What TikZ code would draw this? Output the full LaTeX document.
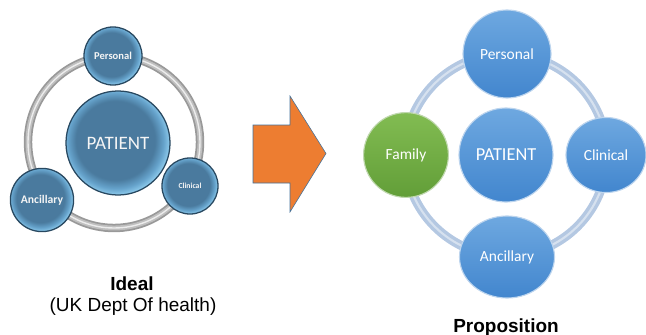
\documentclass[tikz,border=0pt]{standalone}
\usepackage{fontspec}
\setmainfont{Liberation Sans}
\newfontfamily\calibri{Carlito}
\usetikzlibrary{shapes.geometric}
\definecolor{steeldark}{RGB}{40,72,96}
\definecolor{ballhi}{RGB}{110,168,224}
\definecolor{balllo}{RGB}{66,134,206}
\definecolor{famhi}{RGB}{130,188,82}
\definecolor{famlo}{RGB}{98,158,56}
\definecolor{ringblue}{RGB}{180,200,226}
\definecolor{arroworange}{RGB}{237,125,49}
\definecolor{arrowedge}{RGB}{65,113,156}
\pgfdeclareradialshading{ballL}{\pgfpoint{-2bp}{2bp}}{rgb(0bp)=(0.29,0.48,0.62); rgb(19bp)=(0.29,0.48,0.62); rgb(23bp)=(0.40,0.64,0.80); rgb(26bp)=(0.56,0.80,0.93); rgb(50bp)=(0.56,0.80,0.93)}
\begin{document}
\begin{tikzpicture}[x=0.025cm,y=-0.025cm,
	ballL/.style={circle,shading=ballL,draw=steeldark,line width=0.9pt,inner sep=0pt,text=white!92!gray},
	ballR/.style={top color=ballhi,bottom color=balllo,draw=white!65!balllo,line width=0.8pt,inner sep=0pt,text=white,font=\calibri\fontsize{11}{13}\selectfont},
	caption/.style={anchor=base,font=\fontsize{13.5}{16}\selectfont}]
	\useasboundingbox (0,0) rectangle (646,335);
	% ideal: ring first, balls on top
	\coordinate (ringL) at (114,142);
	\draw[line width=6pt,gray!80] (ringL) circle (86);
	\draw[line width=3.5pt,gray!50] (ringL) circle (86);
	\draw[line width=1pt,white!85!gray] (ringL) circle (86);
	\node[ballL,minimum size=2.6cm,font=\calibri\fontsize{13.5}{16}\selectfont] (patientL) at (118,143) {PATIENT};
	\node[ballL,minimum size=1.45cm,font=\calibri\bfseries\fontsize{7.5}{9}\selectfont] (personalL) at (113,56) {Personal};
	\node[ballL,minimum size=1.4cm,font=\calibri\bfseries\fontsize{5.5}{7}\selectfont] (clinicalL) at (190,186) {Clinical};
	\node[ballL,minimum size=1.58cm,font=\calibri\bfseries\fontsize{8.3}{10}\selectfont] (ancillaryL) at (42,200) {Ancillary};
	\node[caption,font=\bfseries\fontsize{13.5}{16}\selectfont] (ideal) at (132,290) {Ideal};
	\node[caption] (source) at (133,311.5) {(UK Dept Of health)};
	% arrow
	\draw[fill=arroworange,draw=arrowedge,line width=0.4pt] (253,125) -- (290,125) -- (290,96) -- (326,153.5) -- (290,212) -- (290,183) -- (253,183) -- cycle;
	% proposition
	\coordinate (ringR) at (506,155);
	\draw[line width=6.5pt,ringblue] (ringR) circle (101);
	\draw[line width=1.5pt,white!45!ringblue] (ringR) circle (101);
	\node[ballR,circle,minimum size=2.35cm,font=\calibri\fontsize{13}{15}\selectfont] (patientR) at (506,155) {PATIENT};
	\node[ballR,circle,minimum size=2.2cm] (personalR) at (507,54) {Personal};
	\node[ballR,circle,minimum size=2.12cm,top color=famhi,bottom color=famlo,draw=white!60!famlo] (family) at (406,155) {Family};
	\node[ballR,ellipse,minimum width=2cm,minimum height=1.875cm] (clinicalR) at (606,155) {Clinical};
	\node[ballR,ellipse,minimum width=2.375cm,minimum height=2.05cm] (ancillaryR) at (507,257) {Ancillary};
	\node[caption,font=\bfseries\fontsize{13.5}{16}\selectfont] (prop) at (506,332) {Proposition};
\end{tikzpicture}
\end{document}
